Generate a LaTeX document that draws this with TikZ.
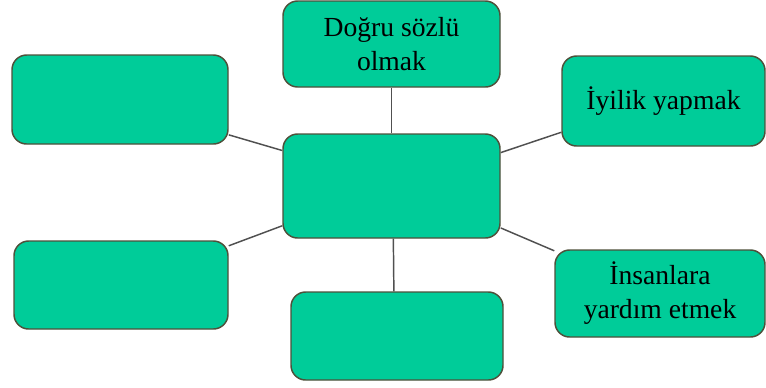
\documentclass[tikz,border=0pt]{standalone}
\usepackage{fontspec}
\setmainfont{Liberation Serif}
\usetikzlibrary{backgrounds}
\definecolor{boxfill}{RGB}{0,204,153}
\definecolor{boxline}{RGB}{78,80,58}
\definecolor{linkline}{RGB}{80,80,80}
\begin{document}
\begin{tikzpicture}[x=0.75pt,y=-0.75pt,
  box/.style={draw=boxline,fill=boxfill,line width=1.1pt,rounded corners=11pt,
    align=center,inner sep=0pt,font=\fontsize{20.7}{25.5}\selectfont,text=black},
  link/.style={draw=linkline,line width=1.1pt}]
\useasboundingbox (0,0) rectangle (766,387);
\node[box,minimum width=162.75pt,minimum height=64.5pt] (top) at (391.5,44) {Doğru sözlü\\olmak};
\node[box,minimum width=162pt,minimum height=66.75pt] (lt) at (120,99.5) {};
\node[box,minimum width=152.25pt,minimum height=67.5pt] (rt) at (663.5,101) {İyilik yapmak};
\node[box,minimum width=162.75pt,minimum height=78pt] (c) at (391.5,186) {};
\node[box,minimum width=160.5pt,minimum height=66pt] (lb) at (121,285) {};
\node[box,minimum width=159pt,minimum height=66pt] (b) at (397,336) {};
\node[box,minimum width=157.5pt,minimum height=65.25pt] (rb) at (660,293.5) {İnsanlara\\yardım etmek};
\begin{scope}[on background layer]
\draw[link] (top.south) -- (c.north);
\draw[link] (c.-88) -- (b.94);
\draw[link] (lt.-18) -- (c.162);
\draw[link] (lb.20) -- (c.200);
\draw[link] (c.17) -- (rt.197);
\draw[link] (c.-21) -- (rb.158);
\end{scope}
\end{tikzpicture}
\end{document}
